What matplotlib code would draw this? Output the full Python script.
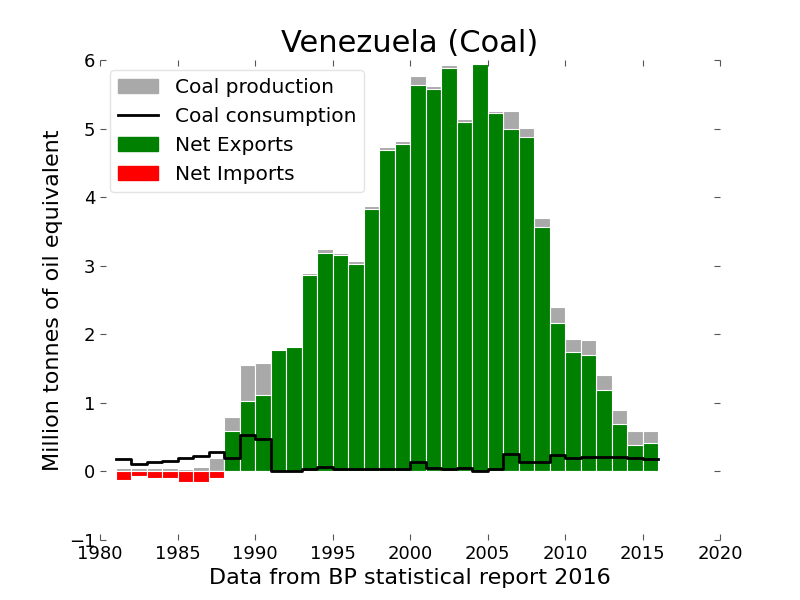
import numpy as np
import matplotlib
matplotlib.use('Agg')
import matplotlib.pyplot as plt
from matplotlib.patches import Patch
from matplotlib.lines import Line2D

years = np.arange(1981, 2016)

production = [0.05, 0.05, 0.05, 0.05, 0.04, 0.06, 0.19, 0.79, 1.55, 1.58,
              1.78, 1.82, 2.90, 3.25, 3.19, 3.07, 3.87, 4.73, 4.82, 5.77,
              5.62, 5.92, 5.14, 5.94, 5.26, 5.25, 5.01, 3.70, 2.40, 1.93,
              1.91, 1.40, 0.90, 0.59, 0.59]

consumption = [0.18, 0.11, 0.14, 0.15, 0.20, 0.22, 0.28, 0.20, 0.53, 0.47,
               0.01, 0.01, 0.04, 0.06, 0.03, 0.04, 0.04, 0.04, 0.04, 0.14,
               0.05, 0.03, 0.05, 0.00, 0.04, 0.25, 0.14, 0.14, 0.24, 0.19,
               0.21, 0.21, 0.21, 0.20, 0.18]

prod = np.array(production)
cons = np.array(consumption)
net = prod - cons
exports = np.where(net > 0, net, 0)
imports = np.where(net < 0, net, 0)

fig = plt.figure(figsize=(8, 6), dpi=100)
ax = fig.add_axes([0.125, 0.1, 0.775, 0.8])

ax.bar(years, prod, width=1, align='edge', color='darkgray', edgecolor='white', linewidth=0.8)
ax.bar(years, exports, width=1, align='edge', color='green', edgecolor='white', linewidth=0.8)
ax.bar(years, imports, width=1, align='edge', color='red', edgecolor='white', linewidth=0.8)

# consumption as a step line over each year
xs = np.append(years, years[-1] + 1)
ys = np.append(cons, cons[-1])
ax.step(xs, ys, where='post', color='black', linewidth=2)

ax.set_xlim(1980, 2020)
ax.set_ylim(-1, 6)
ax.set_xticks(np.arange(1980, 2021, 5))
ax.set_yticks(np.arange(-1, 7, 1))
for s in ax.spines.values():
    s.set_visible(False)
ax.tick_params(direction='in', top=True, right=True, labelsize=13, length=4, color='#555555')

ax.set_title('Venezuela (Coal)', fontsize=22)
ax.set_ylabel('Million tonnes of oil equivalent', fontsize=16)
ax.set_xlabel('Data from BP statistical report 2016', fontsize=16)

handles = [Patch(color='darkgray'), Line2D([], [], color='black', linewidth=2),
           Patch(color='green'), Patch(color='red')]
labels = ['Coal production', 'Coal consumption', 'Net Exports', 'Net Imports']
ax.legend(handles, labels, loc='upper left', fontsize=14.5, framealpha=0.8, edgecolor='#dddddd')

fig.savefig('out.png')
